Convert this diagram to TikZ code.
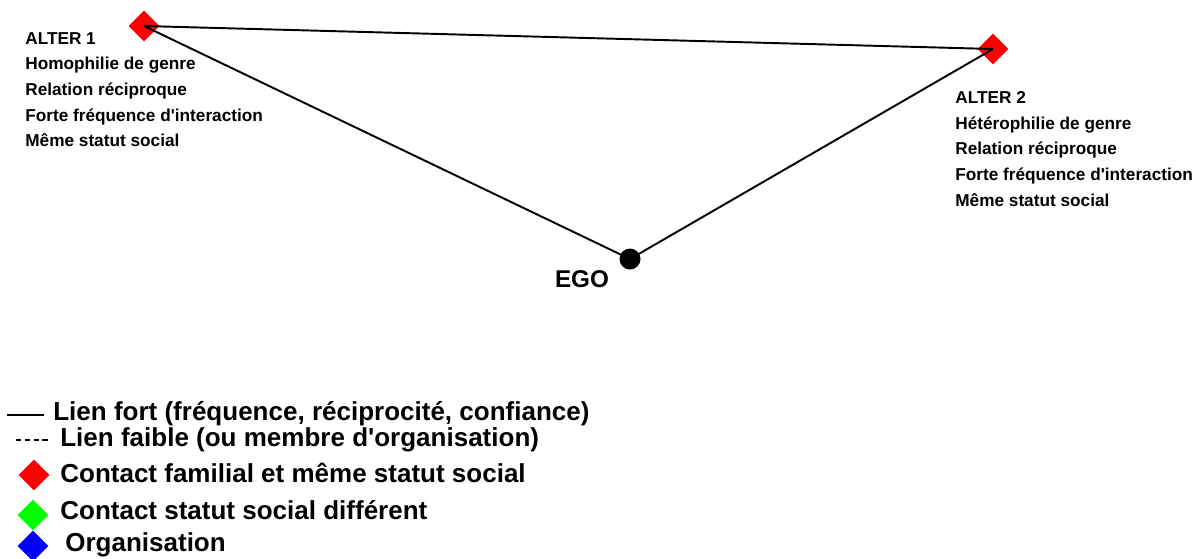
\documentclass[tikz,border=0pt]{standalone}
\usepackage{fontspec}
\setmainfont{Liberation Sans}
\usepackage{xcolor}
\usetikzlibrary{shapes.geometric}

\begin{document}
\begin{tikzpicture}[
    every node/.style={inner sep=0pt},
    contact/.style={
        diamond,
        fill=red,
        minimum size=0.62cm
    },
    egonode/.style={circle, fill=black, minimum size=0.42cm},
    info/.style={
        anchor=north west,
        align=left,
        font=\bfseries\fontsize{9.8}{14.6}\selectfont
    },
    legend/.style={anchor=west, font=\bfseries\fontsize{14.8}{16}\selectfont},
    line/.style={draw, line width=1.1pt},
]
\useasboundingbox (0,0) rectangle (24.04,-11.16);

% Contacts
\node[contact] (alterA) at (2.88,-0.52) {};
\node[contact] (alterB) at (19.86,-0.98) {};
\node[egonode] (ego) at (12.6,-5.18) {};
\node[font=\bfseries\fontsize{13.8}{16}\selectfont] (egolabel) at (11.64,-5.58) {EGO};

% Descriptions
\node[info] (infoA) at (0.5,-0.64) {ALTER 1\\Homophilie de genre\\Relation réciproque\\Forte fréquence d\textquotesingle interaction\\Même statut social};
\node[info] (infoB) at (19.1,-1.82) {ALTER 2\\Hétérophilie de genre\\Relation réciproque\\Forte fréquence d\textquotesingle interaction\\Même statut social};

% Connections
\draw[line] (alterA.center) -- (alterB.center);
\draw[line] (alterA.center) -- (ego.center);
\draw[line] (alterB.center) -- (ego.center);

% Legend
\coordinate (strongA) at (0.14,-8.3);
\coordinate (strongB) at (0.88,-8.3);
\coordinate (weakA) at (0.32,-8.8);
\coordinate (weakB) at (1.02,-8.8);
\draw[line width=0.9pt] (strongA) -- (strongB);
\draw[line width=0.6pt, dash pattern=on 3pt off 2pt] (weakA) -- (weakB);
\node[legend] (strong) at (1.06,-8.28) {Lien fort (fréquence, réciprocité, confiance)};
\node[legend] (weak) at (1.2,-8.8) {Lien faible (ou membre d\textquotesingle organisation)};

\node[contact] (keyred) at (0.68,-9.5) {};
\node[contact, fill=green] (keygreen) at (0.66,-10.3) {};
\node[contact, fill=blue] (keyblue) at (0.66,-10.92) {};
\node[legend] (family) at (1.2,-9.46) {Contact familial et même statut social};
\node[legend] (status) at (1.2,-10.2) {Contact statut social différent};
\node[legend] (orga) at (1.3,-10.9) {Organisation};

\end{tikzpicture}
\end{document}
